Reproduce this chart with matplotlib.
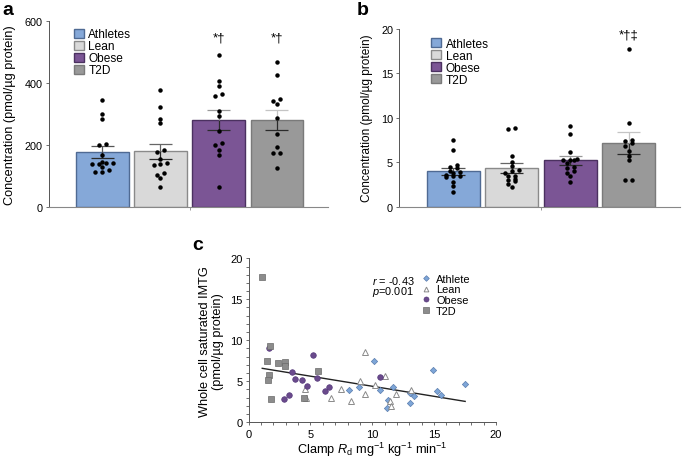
import numpy as np
import matplotlib.pyplot as plt
from matplotlib.patches import Patch

plt.rcParams['font.family'] = ['Liberation Sans', 'DejaVu Sans']
plt.rcParams['mathtext.fontset'] = 'custom'
plt.rcParams['mathtext.rm'] = 'Liberation Sans'
plt.rcParams['mathtext.it'] = 'Liberation Sans:italic'

# 데이터
groups = ['Athletes', 'Lean', 'Obese', 'T2D']
bar_colors = ['#85a8d8', '#d9d9d9', '#7b5595', '#999999']
edge_colors = ['#4f6a93', '#8a8a8a', '#4b3160', '#7a7a7a']
upper_err_colors = ['#555555', '#666666', '#999999', '#c4c4c4']

# (a) 전체 농도
a_mean = [176, 179, 281, 281]
a_sem = [20, 24, 33, 33]
a_athletes = [344, 301, 283, 202, 199, 168, 146, 141, 140, 139, 138, 127, 118, 113, 112]
a_lean = [377, 323, 283, 270, 184, 176, 154, 141, 138, 135, 110, 104, 92, 63]
a_obese = [490, 406, 391, 363, 357, 308, 294, 244, 206, 200, 184, 167, 63]
a_t2d = [467, 424, 349, 342, 333, 287, 235, 194, 173, 172, 126]
a_marks = ['', '', '*†', '*†']

# (b) 포화 IMTG
b_mean = [3.98, 4.35, 5.21, 7.19]
b_sem = [0.37, 0.51, 0.50, 1.22]
b_athletes = [7.5, 6.4, 4.7, 4.5, 4.3, 4.0, 3.9, 3.8, 3.6, 3.5, 3.4, 3.3, 2.8, 2.3, 1.7]
b_lean = [8.8, 8.75, 5.7, 5.0, 4.6, 4.1, 4.0, 3.8, 3.5, 3.4, 3.1, 3.0, 2.9, 2.6, 2.2]
b_obese = [9.1, 8.2, 6.2, 5.4, 5.3, 5.3, 5.2, 4.9, 4.5, 4.4, 4.0, 3.8, 3.4, 2.8]
b_t2d = [17.7, 9.4, 7.5, 7.35, 7.1, 6.8, 6.26, 5.73, 5.25, 2.97, 2.97]
b_marks = ['', '', '', '*†‡']

# (c) Clamp Rd vs 포화 IMTG
c_ath_x = [10.13, 14.87, 17.51, 11.69, 10.61, 15.25, 15.54, 13.04, 13.39, 11.31, 11.15, 13.04, 8.13, 8.89]
c_ath_y = [7.44, 6.42, 4.67, 4.35, 3.94, 3.86, 3.33, 3.57, 3.25, 2.72, 1.74, 2.35, 3.90, 4.30]
c_lean_x = [9.37, 9.0, 10.18, 10.99, 9.45, 11.9, 11.4, 11.48, 13.1, 6.65, 7.46, 8.3, 4.52, 4.6]
c_lean_y = [8.6, 5.0, 4.59, 5.61, 3.49, 3.41, 2.63, 2.03, 3.9, 2.93, 4.02, 2.56, 4.1, 2.96]
c_ob_x = [1.67, 5.17, 3.47, 3.74, 4.28, 4.69, 5.55, 6.52, 6.14, 3.23, 2.88, 10.61]
c_ob_y = [9.06, 8.21, 6.17, 5.28, 5.16, 4.39, 5.37, 4.34, 3.78, 3.33, 2.80, 5.49]
c_t2d_x = [1.10, 1.72, 1.45, 1.64, 1.53, 1.78, 2.34, 2.93, 2.91, 5.63, 4.47]
c_t2d_y = [17.68, 9.34, 7.51, 5.73, 5.20, 2.88, 7.19, 7.31, 6.90, 6.26, 2.93]


def swarm_offsets(vals, thresh, step, max_n=4):
    # 값이 가까운 점들을 좌우로 대칭 배치
    vals = np.asarray(vals, dtype=float)
    order = list(np.argsort(vals))
    offs = np.zeros(len(vals))
    clusters = [[order[0]]]
    for i in order[1:]:
        c = clusters[-1]
        if vals[i] - vals[c[0]] < thresh and len(c) < max_n:
            c.append(i)
        else:
            clusters.append([i])
    for c in clusters:
        n = len(c)
        offs[c] = (np.arange(n) - (n - 1) / 2) * step
    return offs


def bar_panel(ax, means, sems, pts, marks, thresh, ymax, mark_y, label_size, leg_anchor):
    x = np.arange(len(groups))
    ax.bar(x, means, width=0.9, color=bar_colors, edgecolor=edge_colors, linewidth=1.0, zorder=1)
    cw = 0.2
    for i in range(len(groups)):
        ax.vlines(x[i], means[i] - sems[i], means[i], color='#2b2b2b', lw=0.9, zorder=2)
        ax.hlines(means[i] - sems[i], x[i] - cw, x[i] + cw, color='#2b2b2b', lw=0.9, zorder=2)
        ax.vlines(x[i], means[i], means[i] + sems[i], color=upper_err_colors[i], lw=0.9, zorder=2)
        ax.hlines(means[i] + sems[i], x[i] - cw, x[i] + cw, color=upper_err_colors[i], lw=0.9, zorder=2)
        offs = swarm_offsets(pts[i], thresh, 0.12)
        ax.plot(x[i] + offs, pts[i], 'o', color='black', ms=2.2, zorder=3)
        if marks[i]:
            ax.text(x[i], mark_y, marks[i], ha='center', va='center', fontsize=9.5)
    ax.set_xlim(-0.92, 3.88)
    ax.set_ylim(0, ymax)
    ax.set_xticks([1.5])
    ax.set_xticklabels([''])
    ax.tick_params(axis='x', length=2, width=0.6, color='#888888')
    ax.tick_params(axis='y', length=2.5, width=0.6, labelsize=7.8, pad=2, color='#555555')
    for s in ['top', 'right']:
        ax.spines[s].set_visible(False)
    ax.spines['left'].set_color('#555555')
    ax.spines['bottom'].set_color('#888888')
    ax.spines['left'].set_linewidth(0.7)
    ax.spines['bottom'].set_linewidth(0.8)
    ax.set_ylabel('Concentration (pmol/µg protein)', fontsize=label_size, labelpad=6)
    handles = [Patch(facecolor=bar_colors[i], edgecolor=edge_colors[i], label=groups[i]) for i in range(4)]
    ax.legend(handles=handles, loc='upper left', bbox_to_anchor=leg_anchor, frameon=False,
              fontsize=8.6, handlelength=0.85, handleheight=0.8, handletextpad=0.4,
              labelspacing=0.0, borderpad=0, borderaxespad=0)


fig = plt.figure(figsize=(6.85, 4.6), dpi=100)

ax1 = fig.add_axes([0.0715, 0.5485, 0.407, 0.4037])
bar_panel(ax1, a_mean, a_sem, [a_athletes, a_lean, a_obese, a_t2d], a_marks, 9, 600, 548, 9.2,
          (0.088, 0.96))
ax1.set_yticks([0, 200, 400, 600])

ax2 = fig.add_axes([0.583, 0.5485, 0.41, 0.387])
bar_panel(ax2, b_mean, b_sem, [b_athletes, b_lean, b_obese, b_t2d], b_marks, 0.3, 20, 19.3, 8.6,
          (0.112, 0.95))
ax2.set_yticks([0, 5, 10, 15, 20])

# (c) 산점도
ax3 = fig.add_axes([0.363, 0.0798, 0.361, 0.3565])
ax3.plot(c_ath_x, c_ath_y, 'D', ms=3.2, mfc='#7ea6d8', mec='#5a7cad', mew=0.5, label='Athlete', zorder=3)
ax3.plot(c_lean_x, c_lean_y, '^', ms=3.8, mfc='white', mec='#8a8a8a', mew=0.7, label='Lean', zorder=3)
ax3.plot(c_ob_x, c_ob_y, 'o', ms=4.0, mfc='#6a4a8c', mec='#55397a', mew=0.5, label='Obese', zorder=3)
ax3.plot(c_t2d_x, c_t2d_y, 's', ms=4.2, mfc='#8c8c8c', mec='#6a6a6a', mew=0.5, label='T2D', zorder=3)

all_x = np.array(c_ath_x + c_lean_x + c_ob_x + c_t2d_x)
all_y = np.array(c_ath_y + c_lean_y + c_ob_y + c_t2d_y)
slope, icpt = np.polyfit(all_x, all_y, 1)
lx = np.array([all_x.min(), all_x.max()])
ax3.plot(lx, slope * lx + icpt, color='#222222', lw=1.0, zorder=2)

ax3.set_xlim(0, 20)
ax3.set_ylim(0, 20)
ax3.set_xticks([0, 5, 10, 15, 20])
ax3.set_yticks([0, 5, 10, 15, 20])
ax3.set_xticks(np.arange(0, 21, 1), minor=True)
ax3.set_yticks(np.arange(0, 21, 1), minor=True)
ax3.tick_params(which='both', length=2.5, width=0.6, color='#555555', labelsize=8, pad=2)
for s in ['top', 'right']:
    ax3.spines[s].set_visible(False)
for s in ['left', 'bottom']:
    ax3.spines[s].set_color('#555555')
    ax3.spines[s].set_linewidth(0.7)
ax3.set_xlabel('Clamp $\\mathit{R}_{\\mathrm{d}}$ mg$^{-1}$ kg$^{-1}$ min$^{-1}$', fontsize=9.2, labelpad=1)
ax3.set_ylabel('Whole cell saturated IMTG\n(pmol/µg protein)', fontsize=9.2, labelpad=4)
ax3.legend(loc='upper left', bbox_to_anchor=(0.70, 0.905), frameon=False, fontsize=7.9,
           handlelength=0.7, handletextpad=0.6, labelspacing=0.05, borderpad=0, borderaxespad=0,
           markerscale=0.9)
ax3.text(0.67, 0.87, '$\\mathit{r}$ = -0.43', transform=ax3.transAxes, ha='right', va='center', fontsize=7.9)
ax3.text(0.67, 0.80, '$\\mathit{p}$=0.001', transform=ax3.transAxes, ha='right', va='center', fontsize=7.9)

# 패널 라벨
fig.text(0.003, 0.995, 'a', fontsize=14, fontweight='bold', va='top')
fig.text(0.521, 0.995, 'b', fontsize=14, fontweight='bold', va='top')
fig.text(0.281, 0.485, 'c', fontsize=14, fontweight='bold', va='top')

fig.savefig('out.png', dpi=100)
